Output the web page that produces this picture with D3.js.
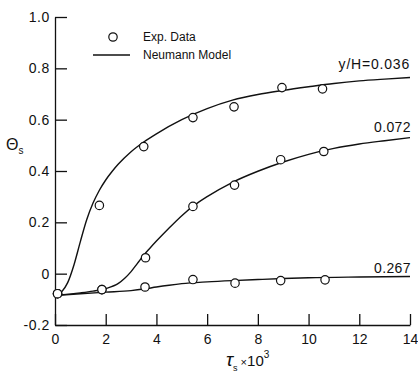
<!DOCTYPE html>
<html><head><meta charset="utf-8">
<script src="https://cdn.jsdelivr.net/npm/d3@7"></script>
<style>
html,body{margin:0;padding:0;background:#fff;}
svg{display:block;font-family:"Liberation Sans",Arial,sans-serif;}
</style></head>
<body>
<svg id="chart" width="418" height="379"></svg>
<script>
// ---- data ----
const xTicks = [0, 2, 4, 6, 8, 10, 12, 14];
const xTickLabels = ["0", "2", "4", "6", "8", "10", "12", "14"];
const yTicks = [-0.2, 0, 0.2, 0.4, 0.6, 0.8, 1.0];
const yTickLabels = ["-0.2", "0", "0.2", "0.4", "0.6", "0.8", "1.0"];

const seriesNames = ["y/H=0.036", "0.072", "0.267"];

// Experimental data (circles)
const exp036X = [0.1, 1.75, 3.5, 5.44, 7.06, 8.95, 10.55];
const exp036Y = [-0.078, 0.266, 0.495, 0.608, 0.65, 0.725, 0.72];
const exp072X = [0.1, 1.85, 3.57, 5.44, 7.08, 8.9, 10.6];
const exp072Y = [-0.078, -0.062, 0.062, 0.262, 0.345, 0.444, 0.476];
const exp267X = [0.1, 1.85, 3.55, 5.44, 7.1, 8.9, 10.65];
const exp267Y = [-0.078, -0.062, -0.052, -0.023, -0.037, -0.027, -0.024];

// Neumann model (lines)
const mod036X = [0, 0.25, 0.5, 0.75, 1.0, 1.25, 1.5, 1.75, 2.0, 2.25, 2.5, 3.0, 3.5, 4.0, 5.0, 6.0, 7.0, 8.0, 9.0, 10.0, 11.0, 12.0, 13.0, 14.0];
const mod036Y = [-0.085, -0.072, -0.035, 0.035, 0.125, 0.21, 0.275, 0.325, 0.365, 0.398, 0.427, 0.475, 0.513, 0.545, 0.6, 0.643, 0.676, 0.698, 0.714, 0.728, 0.741, 0.751, 0.758, 0.764];
const mod072X = [0, 1.0, 1.5, 2.0, 2.5, 2.75, 3.0, 3.25, 3.5, 3.75, 4.0, 4.5, 5.0, 5.5, 6.0, 7.0, 8.0, 9.0, 10.0, 11.0, 12.0, 13.0, 14.0];
const mod072Y = [-0.085, -0.075, -0.068, -0.058, -0.038, -0.018, 0.008, 0.04, 0.072, 0.1, 0.127, 0.178, 0.226, 0.267, 0.3, 0.356, 0.399, 0.435, 0.465, 0.488, 0.505, 0.518, 0.53];
const mod267X = [0, 1, 2, 3, 3.5, 4, 4.5, 5, 6, 7, 8, 9, 10, 12, 14];
const mod267Y = [-0.085, -0.078, -0.072, -0.066, -0.06, -0.052, -0.045, -0.039, -0.032, -0.027, -0.023, -0.019, -0.016, -0.013, -0.011];

// ---- chart ----
const svg = d3.select("#chart");
const ink = "#111";
const x = d3.scaleLinear().domain([0, 14]).range([55, 410]);
const y = d3.scaleLinear().domain([-0.2, 1.0]).range([325, 17]);

// Y axis
const yAxis = d3.axisLeft(y).tickValues(yTicks)
  .tickFormat((d, i) => yTickLabels[i]).tickSize(-12).tickSizeOuter(0).tickPadding(5);
const gy = svg.append("g").attr("transform", "translate(55,0)").call(yAxis);
gy.selectAll("text").attr("font-size", 14).attr("fill", ink).attr("letter-spacing", 0.6);
gy.selectAll("line,path").attr("stroke", ink).attr("stroke-width", 1.3);

// X axis
const xAxis = d3.axisBottom(x).tickValues(xTicks)
  .tickFormat((d, i) => xTickLabels[i]).tickSize(-11).tickSizeOuter(0).tickPadding(9);
const gx = svg.append("g").attr("transform", "translate(0,325)").call(xAxis);
gx.selectAll("text").attr("font-size", 14).attr("fill", ink);
gx.selectAll("line,path").attr("stroke", ink).attr("stroke-width", 1.3);
svg.selectAll(".domain").attr("fill", "none");

// Model lines
const line = d3.line().x(d => x(d[0])).y(d => y(d[1])).curve(d3.curveMonotoneX);
const models = [[mod036X, mod036Y], [mod072X, mod072Y], [mod267X, mod267Y]];
models.forEach(([xs, ys]) => {
  svg.append("path").datum(xs.map((v, i) => [v, ys[i]]))
    .attr("d", line).attr("fill", "none").attr("stroke", ink).attr("stroke-width", 1.4);
});

// Experimental circles
const exps = [[exp036X, exp036Y], [exp072X, exp072Y], [exp267X, exp267Y]];
exps.forEach(([xs, ys]) => {
  svg.append("g").selectAll("circle").data(xs.map((v, i) => [v, ys[i]])).join("circle")
    .attr("cx", d => x(d[0])).attr("cy", d => y(d[1])).attr("r", 4.2)
    .attr("fill", "#fff").attr("stroke", ink).attr("stroke-width", 1.2);
});

// Curve labels
const labelPos = [[410, 69], [411, 132], [411, 273]];
seriesNames.forEach((s, i) => {
  svg.append("text").attr("x", labelPos[i][0]).attr("y", labelPos[i][1])
    .attr("text-anchor", "end").attr("font-size", 14).attr("fill", ink)
    .attr("letter-spacing", i === 0 ? 0.8 : 0.4).text(s);
});

// Legend
svg.append("circle").attr("cx", 113).attr("cy", 37).attr("r", 4.2)
  .attr("fill", "#fff").attr("stroke", ink).attr("stroke-width", 1.2);
svg.append("line").attr("x1", 93).attr("x2", 130).attr("y1", 55).attr("y2", 55)
  .attr("stroke", ink).attr("stroke-width", 1.4);
svg.append("text").attr("x", 143).attr("y", 40.5).attr("font-size", 12).attr("fill", ink).text("Exp. Data");
svg.append("text").attr("x", 143).attr("y", 58.5).attr("font-size", 12).attr("fill", ink).text("Neumann Model");

// Axis titles
const yt = svg.append("text").attr("x", 6).attr("y", 150).attr("fill", ink);
yt.append("tspan").attr("font-size", 16).text("Θ");
yt.append("tspan").attr("font-size", 10).attr("dy", 4).text("s");

const xt = svg.append("text").attr("x", 226).attr("y", 366).attr("fill", ink);
xt.append("tspan").attr("font-size", 19).attr("font-style", "italic").text("τ");
xt.append("tspan").attr("font-size", 9).attr("dy", 5).text("s");
xt.append("tspan").attr("font-size", 11).attr("dy", -5).attr("dx", 3).text("×");
xt.append("tspan").attr("font-size", 15).text("10");
xt.append("tspan").attr("font-size", 10).attr("dy", -8).text("3");
</script>
</body></html>
